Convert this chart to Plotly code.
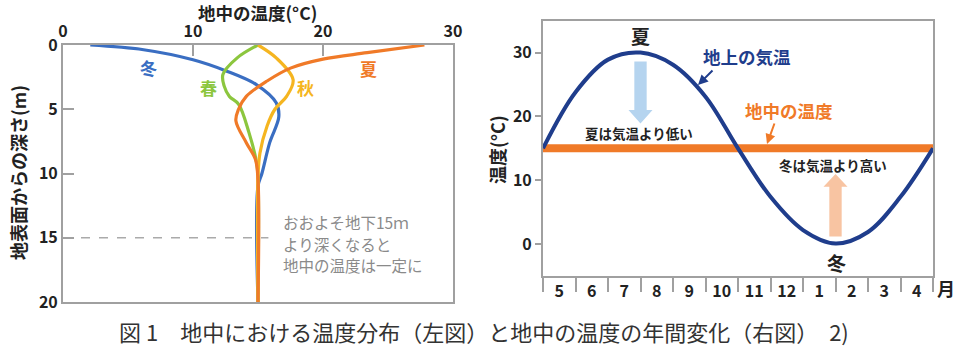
import plotly.graph_objects as go

OFF = 0
W, H = 960, 355
FONT = "Noto Sans CJK JP"

# ---------------- left chart data (temperature vs depth) ----------------
winter_t = [2.1, 6.2, 10.0, 12.5, 14.9, 16.4, 16.6, 15.9, 15.3, 15.0, 15.0]
winter_d = [0.0, 0.37, 1.15, 2.0, 3.1, 4.5, 5.6, 7.6, 10.0, 11.0, 20.0]

spring_t = [15.0, 13.4, 12.3, 12.4, 12.8, 13.5, 14.3, 14.9, 15.0, 15.0]
spring_d = [0.0, 1.0, 2.3, 3.2, 4.0, 4.6, 6.8, 9.2, 10.2, 20.0]

autumn_t = [15.0, 16.4, 17.7, 17.2, 16.3, 15.7, 15.15, 15.0, 15.0]
autumn_d = [0.0, 1.0, 2.7, 4.0, 5.0, 6.3, 8.4, 10.3, 20.0]

summer_t = [27.8, 23.4, 20.0, 17.5, 15.7, 14.1, 13.5, 13.3, 14.1, 14.8, 15.0, 15.0]
summer_d = [0.0, 0.6, 1.1, 1.8, 2.8, 4.0, 5.0, 5.9, 7.6, 8.9, 10.5, 20.0]

dash_t = [0.0, 15.8]
dash_d = [15.0, 15.0]

left_xticks = [0, 10, 20, 30]
left_yticks = [0, 5, 10, 15, 20]
note_lines = ["おおよそ地下15ｍ", "より深くなると", "地中の温度は一定に"]

# ---------------- right chart data (annual change) ----------------
month_pos = [0, 1, 2, 3, 4, 5, 6, 7, 8, 9, 10, 11, 12]
air_temp = [15.0, 23.8, 28.9, 30.0, 28.1, 23.1, 15.0, 7.4, 2.2, 0.1, 1.9, 7.4, 15.0]
ground_x = [0, 12]
ground_temp = [15.0, 15.0]
month_label_pos = [0.5, 1.5, 2.5, 3.5, 4.5, 5.5, 6.5, 7.5, 8.5, 9.5, 10.5, 11.5]
month_labels = ["5", "6", "7", "8", "9", "10", "11", "12", "1", "2", "3", "4"]
right_yticks = [0, 10, 20, 30]

BLUE = "#3a6ec2"
GREEN = "#8cc63e"
YELLOW = "#f5b520"
ORANGE = "#f07a28"
NAVY = "#1f3d8c"
GRAY = "#a0a0a0"

fig = go.Figure()

fig.add_trace(go.Scatter(x=dash_t, y=dash_d, mode="lines",
                         line=dict(color="#aaaaaa", width=1.5, dash="dash"),
                         xaxis="x", yaxis="y", hoverinfo="skip"))
for t, d, c in [(winter_t, winter_d, BLUE), (spring_t, spring_d, GREEN),
                (autumn_t, autumn_d, YELLOW), (summer_t, summer_d, ORANGE)]:
    fig.add_trace(go.Scatter(x=t, y=d, mode="lines",
                             line=dict(color=c, width=3.2, shape="spline", smoothing=1.0),
                             xaxis="x", yaxis="y"))

fig.add_trace(go.Scatter(x=ground_x, y=ground_temp, mode="lines",
                         line=dict(color=ORANGE, width=8),
                         xaxis="x2", yaxis="y2"))
fig.add_trace(go.Scatter(x=month_pos, y=air_temp, mode="lines",
                         line=dict(color=NAVY, width=4, shape="spline", smoothing=1.0),
                         xaxis="x2", yaxis="y2"))

def px_x(p):
    return (p - OFF) / W

def px_y(p):
    return 1 - (p - OFF) / H

tickfont = dict(family=FONT, size=16, color="#222222", weight="bold")
common = dict(showline=True, linecolor=GRAY, linewidth=2, mirror=True, showgrid=False,
              zeroline=False, tickfont=tickfont, automargin=False, tickwidth=2, tickcolor=GRAY)

fig.update_layout(
    width=W, height=H,
    margin=dict(l=0, r=0, t=0, b=0, autoexpand=False),
    paper_bgcolor="white", plot_bgcolor="white",
    showlegend=False,
    font=dict(family=FONT),
    xaxis=dict(domain=[px_x(63), px_x(453)], range=[0, 30], anchor="y", side="top",
               tickvals=left_xticks, ticks="inside", ticklen=11, **common),
    yaxis=dict(domain=[px_y(302), px_y(45)], range=[20, 0], anchor="x",
               tickvals=left_yticks, ticks="inside", ticklen=11, **common),
    xaxis2=dict(domain=[px_x(543), px_x(933)], range=[0, 12], anchor="y2",
                tickvals=month_label_pos, ticktext=month_labels, ticks="", ticklen=0,
                minor=dict(tick0=0, dtick=1, ticks="outside", ticklen=14, tickwidth=2, tickcolor=GRAY),
                **common),
    yaxis2=dict(domain=[px_y(276), px_y(20.7)], range=[-5, 35], anchor="x2",
                tickvals=right_yticks, ticks="outside", ticklen=6, **common),
)

ann = []
def A(text, x, y, size=15, color="#222222", bold=True, angle=0, xanchor="center", yanchor="middle", align="center"):
    ann.append(dict(text=("<b>%s</b>" % text) if bold else text, x=x, y=y, xref="paper", yref="paper",
                    showarrow=False, textangle=angle, xanchor=xanchor, yanchor=yanchor, align=align,
                    borderpad=0, font=dict(family=FONT, size=size, color=color)))

# left chart labels
A("地中の温度(°C)", px_x(257), px_y(12.5), size=17.5)
A("地表面からの深さ(m)", px_x(18), px_y(173), size=18, angle=-90)
A("冬", px_x(148), px_y(68), size=17, color=BLUE)
A("春", px_x(208), px_y(87), size=17, color=GREEN)
A("秋", px_x(305), px_y(87), size=17, color=YELLOW)
A("夏", px_x(368), px_y(69), size=17, color=ORANGE)
for line, yy in zip(note_lines, [222, 243.5, 265]):
    A(line, px_x(282), px_y(yy), size=15.5, color="#8a8a8a", bold=False, xanchor="left", align="left")

# right chart labels
A("温度(°C)", px_x(497), px_y(150), size=18, angle=-90)
A("月", px_x(946), px_y(288), size=18)
A("夏", px_x(640), px_y(36), size=19)
A("冬", px_x(836), px_y(262), size=19)
A("地上の気温", px_x(747), px_y(56), size=17.5, color=NAVY)
A("地中の温度", px_x(789), px_y(110), size=17.5, color=ORANGE)
A("夏は気温より低い", px_x(639), px_y(133), size=13.5)
A("冬は気温より高い", px_x(833), px_y(165), size=13.5)
A("図 1　地中における温度分布（左図）と地中の温度の年間変化（右図）　2)", px_x(484), px_y(331),
  size=22, color="#333333", bold=False)

# small pointer arrows
ann.append(dict(x=px_x(698), y=px_y(85), ax=16, ay=-16, xref="paper", yref="paper",
                axref="pixel", ayref="pixel", showarrow=True, arrowhead=2, arrowsize=1,
                arrowwidth=2, arrowcolor=NAVY, text=""))
ann.append(dict(x=px_x(767), y=px_y(144), ax=8, ay=-22, xref="paper", yref="paper",
                axref="pixel", ayref="pixel", showarrow=True, arrowhead=2, arrowsize=1,
                arrowwidth=2, arrowcolor=ORANGE, text=""))
fig.update_layout(annotations=ann)

# block arrows (decorative) in right-axis coordinates
def block_arrow(xc, y_tail, y_head_base, y_tip, half_shaft, half_head, color):
    path = ("M {a},{t} L {b},{t} L {b},{hb} L {c},{hb} L {xc},{tip} L {d},{hb} L {a},{hb} Z"
            .format(a=xc - half_shaft, b=xc + half_shaft, c=xc + half_head, d=xc - half_head,
                    t=y_tail, hb=y_head_base, xc=xc, tip=y_tip))
    fig.add_shape(type="path", path=path, xref="x2", yref="y2",
                  fillcolor=color, line=dict(width=0), layer="below")

block_arrow(3.0, 28.6, 21.0, 18.9, 0.19, 0.37, "#b5d4ef")
block_arrow(9.0, 1.2, 9.0, 11.0, 0.19, 0.37, "#f8c4a2")

fig.write_html("out.html", config={"displayModeBar": False},
               post_script="document.body.style.margin='0';document.body.style.overflow='hidden';")
